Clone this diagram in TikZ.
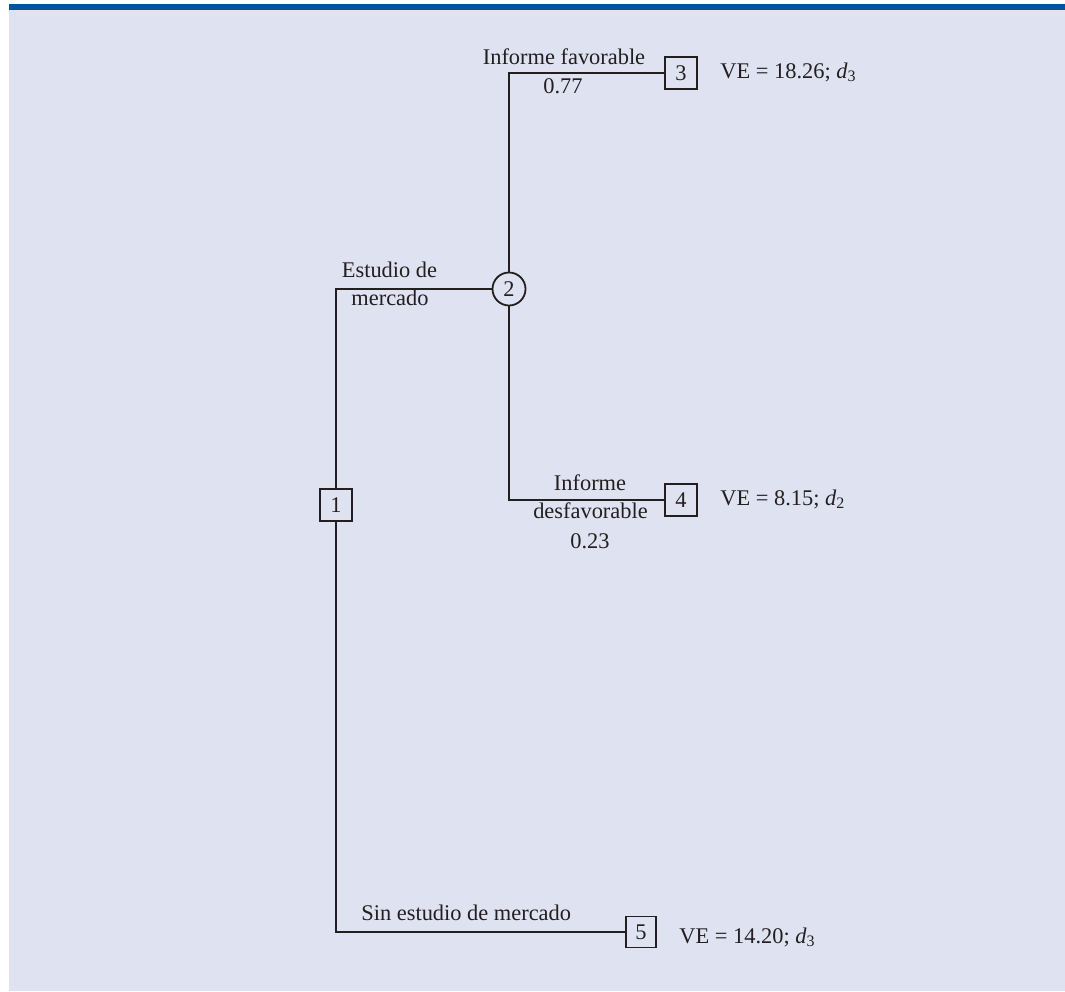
\documentclass[tikz,border=0pt]{standalone}
\usepackage{fontspec}
\setmainfont{Liberation Serif}
\definecolor{bgc}{RGB}{223,226,240}
\definecolor{barc}{RGB}{0,84,160}
\definecolor{inkc}{RGB}{35,31,32}
\newcommand{\dsub}[1]{\textit{d}\raisebox{-0.35ex}{\fontsize{8}{9}\selectfont #1}}
\begin{document}
\begin{tikzpicture}[x=0.5pt,y=-0.5pt,
  every node/.style={font=\fontsize{11.2}{13}\selectfont, text=inkc, inner sep=0pt},
  decbox/.style={draw=inkc, line width=0.9pt, minimum width=16pt, minimum height=16pt},
  chancenode/.style={draw=inkc, circle, line width=0.9pt, minimum size=16.5pt},
  conn/.style={draw=inkc, line width=0.9pt},
  lbl/.style={anchor=base},
  lblw/.style={anchor=base west}]
\useasboundingbox (0,0) rectangle (1065,991);
\fill[white] (0,0) rectangle (1065,991);
\fill[bgc] (9,10) rectangle (1065,991);
\fill[barc] (9,4) rectangle (1065,10);

\node[decbox] (n1) at (336,505) {1};
\node[chancenode] (n2) at (509,289) {2};
\node[decbox] (n3) at (681,73) {3};
\node[decbox] (n4) at (681,500) {4};
\node[decbox, minimum width=15pt, minimum height=15.5pt] (n5) at (641,932) {5};

\draw[conn] (n1.north) |- (n2.west);
\draw[conn] (n1.south) |- (n5.west);
\draw[conn] (n2.north) |- (n3.west);
\draw[conn] (n2.south) |- (n4.west);

\node[lbl] (l1) at (564,64) {Informe favorable};
\node[lbl] (l2) at (563,93) {0.77};
\node[lbl] (l3) at (389.5,277) {Estudio de};
\node[lbl] (l4) at (390,305) {mercado};
\node[lbl] (l5) at (590,490) {Informe};
\node[lbl] (l6) at (590.5,518) {desfavorable};
\node[lbl] (l7) at (590,548) {0.23};
\node[lblw] (l8) at (361,920) {Sin estudio de mercado};

\node[lblw] (v3) at (720,78) {VE = 18.26; \dsub{3}};
\node[lblw] (v4) at (720,505) {VE = 8.15; \dsub{2}};
\node[lblw] (v5) at (679,943) {VE = 14.20; \dsub{3}};
\end{tikzpicture}
\end{document}
